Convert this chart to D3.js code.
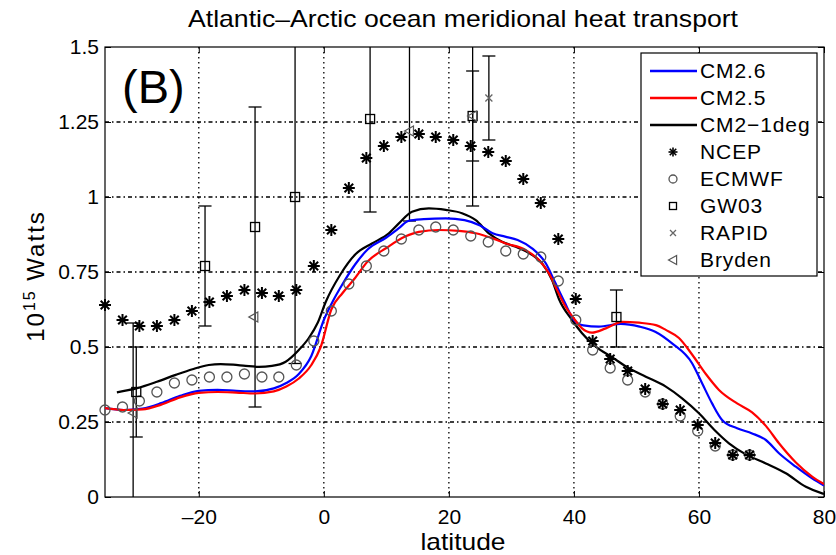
<!DOCTYPE html>
<html>
<head>
<meta charset="utf-8">
<script src="https://cdn.jsdelivr.net/npm/d3@7"></script>
<style>
  body { margin: 0; background: #fff; }
  text { font-family: "Liberation Sans", Arial, Helvetica, sans-serif; fill: #000; }
</style>
</head>
<body>
<div id="chart"></div>
<script>
// Observation latitudes shared by NCEP and ECMWF
var obsLat = [-35, -32.2, -29.5, -26.7, -23.9, -21.1, -18.3, -15.5, -12.7, -9.9, -7.2, -4.4, -1.6,
    1.2, 4.0, 6.8, 9.6, 12.4, 15.2, 17.9, 20.7, 23.5, 26.3, 29.1, 31.9, 34.7, 37.5,
    40.3, 43.0, 45.8, 48.6, 51.4, 54.2, 57.0, 59.8, 62.6, 65.4, 68.1];
var ncepVal = [0.64, 0.59, 0.57, 0.57, 0.59, 0.62, 0.65, 0.67, 0.69, 0.68, 0.67, 0.69, 0.77,
    0.89, 1.03, 1.13, 1.17, 1.20, 1.21, 1.20, 1.19, 1.17, 1.15, 1.12, 1.06, 0.98, 0.86,
    0.66, 0.52, 0.46, 0.42, 0.36, 0.31, 0.29, 0.24, 0.18, 0.14, 0.14];
var ecmwfVal = [0.29, 0.30, 0.32, 0.35, 0.38, 0.39, 0.40, 0.40, 0.41, 0.40, 0.40, 0.44, 0.52,
    0.62, 0.71, 0.77, 0.82, 0.86, 0.89, 0.90, 0.89, 0.87, 0.85, 0.82, 0.81, 0.80, 0.72,
    0.59, 0.49, 0.43, 0.39, 0.35, 0.31, 0.27, 0.22, 0.17, 0.14, 0.14];

// Model curves
var cm26Lat = [-35, -32, -29, -26, -23, -20, -17, -14, -11, -8, -6, -4, -2, 0, 1.5, 3, 5, 7, 10, 12, 13.5,
    16, 19.5, 22.5, 25, 27, 29, 31, 33.3, 35.5, 37, 38.5, 40, 41.5, 44, 47.5, 50.5, 53, 55.7, 58.9,
    60.5, 62.1, 63.7, 66.1, 68.5, 70.7, 72.8, 75.5, 78.1, 80];
var cm26Val = [0.296, 0.29, 0.295, 0.313, 0.337, 0.354, 0.357, 0.354, 0.352, 0.362, 0.38, 0.41, 0.47, 0.59, 0.655,
    0.71, 0.775, 0.825, 0.865, 0.896, 0.92, 0.926, 0.929, 0.923, 0.905, 0.879, 0.868, 0.857, 0.829, 0.779,
    0.715, 0.65, 0.59, 0.572, 0.568, 0.577, 0.568, 0.551, 0.512, 0.446, 0.379, 0.312, 0.257, 0.229,
    0.212, 0.19, 0.146, 0.101, 0.062, 0.038];

var cm25Lat = [-35, -32, -29, -26, -23, -20, -17, -14, -11, -8, -6, -4, -2, -0.5, 1.2, 3, 5, 7, 10, 13, 15.2,
    18.4, 21.6, 24.3, 27, 29, 32.3, 34.4, 36, 37.3, 38.5, 40, 41.3, 42.9, 45.1, 47.7, 50.4, 53.1, 54.7,
    56.8, 58.9, 61.1, 63.2, 66.1, 68.5, 70.7, 72.8, 75.5, 78.1, 80];
var cm25Val = [0.296, 0.29, 0.292, 0.308, 0.332, 0.347, 0.35, 0.348, 0.345, 0.352, 0.368, 0.395, 0.44, 0.5, 0.625,
    0.68, 0.73, 0.785, 0.83, 0.868, 0.884, 0.89, 0.887, 0.879, 0.862, 0.846, 0.823, 0.79, 0.746, 0.69,
    0.64, 0.595, 0.562, 0.548, 0.562, 0.584, 0.581, 0.573, 0.557, 0.53, 0.475, 0.41, 0.357, 0.312,
    0.282, 0.237, 0.179, 0.115, 0.068, 0.043];

var cm2Lat = [-33.1, -30, -26.7, -23.7, -21, -18.4, -16.5, -14.5, -12.5, -10.4, -8.3, -6.1, -4, -2.4, -1, 0.3,
    2.6, 5.1, 7.7, 10.4, 12, 14.1, 16.8, 19.5, 22.1, 24.3, 26.4, 28.5, 30.7, 33.3, 34.9, 36.5, 37.6,
    39.7, 41.3, 43.5, 46.1, 48.8, 51.5, 54.7, 57.3, 60, 62.4, 64.8, 67.5, 70.7, 73.9, 77.1, 79.7, 80];
var cm2Val = [0.349, 0.362, 0.384, 0.407, 0.426, 0.44, 0.443, 0.441, 0.437, 0.434, 0.437, 0.451, 0.49, 0.53, 0.58,
    0.65, 0.74, 0.81, 0.845, 0.879, 0.912, 0.951, 0.962, 0.957, 0.946, 0.923, 0.879, 0.851, 0.834,
    0.807, 0.779, 0.723, 0.66, 0.59, 0.546, 0.501, 0.466, 0.429, 0.401, 0.368, 0.329, 0.279, 0.225,
    0.179, 0.142, 0.112, 0.079, 0.034, 0.012, 0.01];

// Point estimates with error bars
var gwLat = [-30, -19, -11, -4.6, 7.4, 23.8, 46.8];
var gwVal = [0.35, 0.77, 0.90, 1.00, 1.26, 1.27, 0.60];
var gwLo = [0.20, 0.57, 0.30, 0.445, 0.95, 0.97, 0.50];
var gwHi = [0.50, 0.97, 1.30, 1.55, 1.57, 1.57, 0.69];

var rapidLat = [26.4];
var rapidVal = [1.33];
var rapidLo = [1.19];
var rapidHi = [1.47];

var brLat = [-30.5, -11.2, 13.7, 23.8];
var brVal = [0.28, 0.60, 1.22, 1.27];
var brLo = [-0.02, null, 0.92, 1.12];
var brHi = [0.58, null, 1.52, 1.42];

var xTicks = [-20, 0, 20, 40, 60, 80];
var yTicks = [0, 0.25, 0.5, 0.75, 1, 1.25, 1.5];
var yTickLabels = ["0", "0.25", "0.5", "0.75", "1", "1.25", "1.5"];

var legendNames = ["CM2.6", "CM2.5", "CM2\u22121deg", "NCEP", "ECMWF", "GW03", "RAPID", "Bryden"];

var width = 836, height = 555;
var pLeft = 105, pRight = 824, pTop = 47, pBottom = 497;

var svg = d3.select("#chart").append("svg")
    .attr("width", width)
    .attr("height", height);

var x = d3.scaleLinear().domain([-35, 80]).range([pLeft, pRight]);
var y = d3.scaleLinear().domain([0, 1.5]).range([pBottom, pTop]);

svg.append("defs").append("clipPath").attr("id", "plotclip")
    .append("rect")
    .attr("x", pLeft).attr("y", pTop)
    .attr("width", pRight - pLeft).attr("height", pBottom - pTop);

// grid lines
var grid = svg.append("g");
xTicks.filter(function (d) { return d > -35 && d < 80; }).forEach(function (d) {
    grid.append("line")
        .attr("x1", x(d)).attr("x2", x(d))
        .attr("y1", pTop).attr("y2", pBottom)
        .attr("stroke", "#000").attr("stroke-width", 1.3)
        .attr("stroke-dasharray", "1.5,3.5");
});
yTicks.filter(function (d) { return d > 0 && d < 1.5; }).forEach(function (d) {
    grid.append("line")
        .attr("x1", pLeft).attr("x2", pRight)
        .attr("y1", y(d)).attr("y2", y(d))
        .attr("stroke", "#000").attr("stroke-width", 1.3)
        .attr("stroke-dasharray", "4,3,1.5,3");
});

// axes (inner ticks on all four sides)
svg.append("g").attr("transform", "translate(0," + pBottom + ")")
    .call(d3.axisBottom(x).tickValues(xTicks).tickSizeInner(-6).tickSizeOuter(0).tickPadding(12)
        .tickFormat(function (d) { return d < 0 ? "\u2013" + Math.abs(d) : d; }));
svg.append("g").attr("transform", "translate(0," + pTop + ")")
    .call(d3.axisTop(x).tickValues(xTicks).tickSizeInner(-6).tickSizeOuter(0).tickFormat(""));
svg.append("g").attr("transform", "translate(" + pLeft + ",0)")
    .call(d3.axisLeft(y).tickValues(yTicks).tickSizeInner(-6).tickSizeOuter(0).tickPadding(6)
        .tickFormat(function (d, i) { return yTickLabels[i]; }));
svg.append("g").attr("transform", "translate(" + pRight + ",0)")
    .call(d3.axisRight(y).tickValues(yTicks).tickSizeInner(-6).tickSizeOuter(0).tickFormat(""));

svg.selectAll(".domain").remove();
svg.selectAll(".tick line").attr("stroke", "#000").attr("stroke-width", 1);
svg.selectAll(".tick text")
    .style("font-family", "'Liberation Sans', Arial, sans-serif")
    .style("font-size", "21px").attr("fill", "#000");

svg.append("rect")
    .attr("x", pLeft).attr("y", pTop)
    .attr("width", pRight - pLeft).attr("height", pBottom - pTop)
    .attr("fill", "none").attr("stroke", "#000").attr("stroke-width", 1.2);

var plot = svg.append("g").attr("clip-path", "url(#plotclip)");
var marks = svg.append("g");

// error bars
function errorBars(lats, lows, highs) {
    lats.forEach(function (lat, i) {
        if (lows[i] === null) return;
        var cx = x(lat);
        plot.append("line")
            .attr("x1", cx).attr("x2", cx)
            .attr("y1", y(lows[i])).attr("y2", y(highs[i]))
            .attr("stroke", "#000").attr("stroke-width", 1.3);
        [lows[i], highs[i]].forEach(function (v) {
            plot.append("line")
                .attr("x1", cx - 6.5).attr("x2", cx + 6.5)
                .attr("y1", y(v)).attr("y2", y(v))
                .attr("stroke", "#000").attr("stroke-width", 1.3);
        });
    });
}
errorBars(gwLat, gwLo, gwHi);
errorBars(brLat, brLo, brHi);
errorBars(rapidLat, rapidLo, rapidHi);

// model curves
var line = d3.line().curve(d3.curveMonotoneX)
    .x(function (d) { return x(d[0]); })
    .y(function (d) { return y(d[1]); });

var curves = [
    { lat: cm2Lat, val: cm2Val, color: "#000" },
    { lat: cm26Lat, val: cm26Val, color: "#0000ff" },
    { lat: cm25Lat, val: cm25Val, color: "#ff0000" }
];
curves.forEach(function (c) {
    plot.append("path")
        .datum(d3.zip(c.lat, c.val))
        .attr("d", line)
        .attr("fill", "none")
        .attr("stroke", c.color)
        .attr("stroke-width", 2.2);
});

// marker shapes
function star(g, cx, cy, r, sw) {
    var d = r * 0.72;
    var segs = [[-r, 0, r, 0], [0, -r, 0, r], [-d, -d, d, d], [-d, d, d, -d]];
    segs.forEach(function (s) {
        g.append("line")
            .attr("x1", cx + s[0]).attr("y1", cy + s[1])
            .attr("x2", cx + s[2]).attr("y2", cy + s[3])
            .attr("stroke", "#000").attr("stroke-width", sw);
    });
}
function circle(g, cx, cy, r) {
    g.append("circle").attr("cx", cx).attr("cy", cy).attr("r", r)
        .attr("fill", "none").attr("stroke", "#555").attr("stroke-width", 1.3);
}
function square(g, cx, cy, s) {
    g.append("rect").attr("x", cx - s / 2).attr("y", cy - s / 2)
        .attr("width", s).attr("height", s)
        .attr("fill", "none").attr("stroke", "#000").attr("stroke-width", 1.3);
}
function cross(g, cx, cy, r) {
    g.append("path")
        .attr("d", "M" + (cx - r) + "," + (cy - r) + "L" + (cx + r) + "," + (cy + r) +
            "M" + (cx - r) + "," + (cy + r) + "L" + (cx + r) + "," + (cy - r))
        .attr("stroke", "#666").attr("stroke-width", 1.3);
}
function triangle(g, cx, cy, r) {
    g.append("path")
        .attr("d", "M" + (cx - r) + "," + cy + "L" + (cx + r * 0.8) + "," + (cy - r) +
            "L" + (cx + r * 0.8) + "," + (cy + r) + "Z")
        .attr("fill", "none").attr("stroke", "#555").attr("stroke-width", 1.2);
}

obsLat.forEach(function (lat, i) { circle(marks, x(lat), y(ecmwfVal[i]), 5); });
obsLat.forEach(function (lat, i) { star(marks, x(lat), y(ncepVal[i]), 6, 2); });
gwLat.forEach(function (lat, i) { square(marks, x(lat), y(gwVal[i]), 9); });
rapidLat.forEach(function (lat, i) { cross(marks, x(lat), y(rapidVal[i]), 3.5); });
brLat.forEach(function (lat, i) { triangle(marks, x(lat), y(brVal[i]), 5); });

// legend
var lg = svg.append("g");
lg.append("rect")
    .attr("x", 641).attr("y", 53).attr("width", 176).attr("height", 223)
    .attr("fill", "#fff").attr("stroke", "#000").attr("stroke-width", 1.2);
var legendColors = ["#0000ff", "#ff0000", "#000"];
legendNames.forEach(function (name, i) {
    var ly = 71 + i * 27;
    if (i < 3) {
        lg.append("line").attr("x1", 650).attr("x2", 697)
            .attr("y1", ly).attr("y2", ly)
            .attr("stroke", legendColors[i]).attr("stroke-width", 2.5);
    } else if (i === 3) {
        star(lg, 673, ly, 4.5, 1.6);
    } else if (i === 4) {
        circle(lg, 673, ly, 4);
    } else if (i === 5) {
        square(lg, 673, ly, 7);
    } else if (i === 6) {
        cross(lg, 673, ly, 3);
    } else {
        triangle(lg, 673, ly, 4.5);
    }
    lg.append("text")
        .attr("x", 700).attr("y", ly)
        .attr("dy", "0.35em")
        .style("font-size", "21px")
        .style("letter-spacing", "0.9px")
        .text(name);
});

// titles
svg.append("text")
    .attr("x", 463).attr("y", 27)
    .attr("text-anchor", "middle")
    .attr("textLength", 550)
    .attr("lengthAdjust", "spacingAndGlyphs")
    .style("font-size", "24px")
    .text("Atlantic\u2013Arctic ocean meridional heat transport");

svg.append("text")
    .attr("x", 463).attr("y", 550)
    .attr("text-anchor", "middle")
    .attr("textLength", 85)
    .attr("lengthAdjust", "spacingAndGlyphs")
    .style("font-size", "24px")
    .text("latitude");

var yl = svg.append("text")
    .attr("transform", "translate(44,276) rotate(-90)")
    .attr("text-anchor", "middle")
    .style("font-size", "24px")
    .style("letter-spacing", "2px");
yl.append("tspan").text("10");
yl.append("tspan").attr("dy", -9).style("font-size", "16px").text("15");
yl.append("tspan").attr("dy", 9).text(" Watts");

svg.append("text")
    .attr("x", 122).attr("y", 103)
    .style("font-size", "47px")
    .text("(B)");
</script>
</body>
</html>
